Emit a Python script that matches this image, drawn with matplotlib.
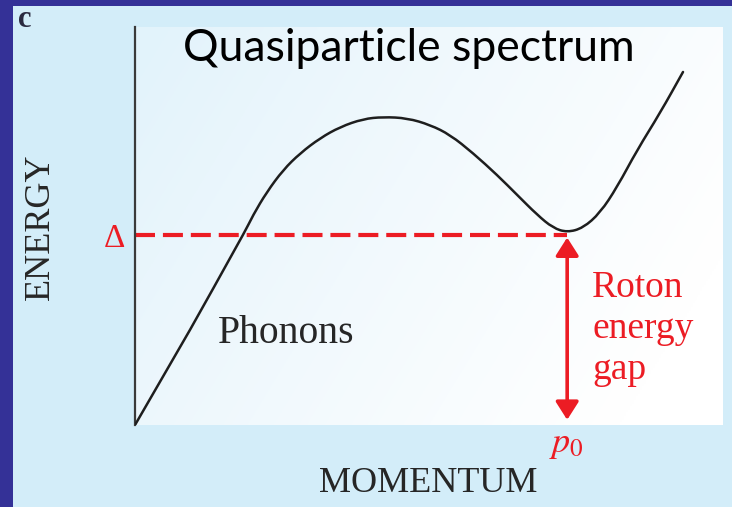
import numpy as np
import matplotlib
matplotlib.use("Agg")
import matplotlib.pyplot as plt
from matplotlib.patches import Rectangle, FancyArrowPatch, PathPatch
from matplotlib.path import Path

plt.rcParams["mathtext.fontset"] = "stix"

# Dispersion curve of superfluid helium (arbitrary units)
momentum = [0.000, 0.0935, 0.184, 0.201, 0.224, 0.252, 0.281, 0.315, 0.349,
            0.388, 0.422, 0.463, 0.502, 0.536, 0.575, 0.616, 0.650, 0.684,
            0.711, 0.735, 0.762, 0.791, 0.820, 0.854, 0.893, 0.932]
energy = [0.000, 0.239, 0.477, 0.528, 0.585, 0.641, 0.683, 0.721, 0.749,
          0.769, 0.774, 0.771, 0.754, 0.729, 0.683, 0.628, 0.578, 0.528,
          0.495, 0.484, 0.495, 0.533, 0.598, 0.691, 0.784, 0.887]

roton_gap = 0.477      # energy Delta
roton_momentum = 0.735  # p0
gap_bottom = 0.013

W, H = 732, 507
fig = plt.figure(figsize=(W / 100, H / 100), dpi=100)
fig.patch.set_facecolor("#d3edf9")

def fpos(x, y):
    return x / W, 1 - y / H

# dark frame on the left and top
navy = "#343197"
fig.patches.append(Rectangle((0, 0), 13 / W, 1, transform=fig.transFigure,
                             facecolor=navy, edgecolor="none", zorder=0))
fig.patches.append(Rectangle((0, 1 - 6 / H), 1, 6 / H, transform=fig.transFigure,
                             facecolor=navy, edgecolor="none", zorder=0))

ax_l, ax_r, ax_t, ax_b = 135, 723, 27, 425
ax = fig.add_axes([ax_l / W, 1 - ax_b / H, (ax_r - ax_l) / W, (ax_b - ax_t) / H])

# soft light-blue to white background inside the plotting region
gx, gy = np.meshgrid(np.linspace(0, 1, 300), np.linspace(0, 1, 200))
t = np.clip(0.85 * gx + 0.35 * (1 - gy) - 0.05, 0, 1) ** 0.9
c0 = np.array([0.89, 0.953, 0.985])
c1 = np.array([1.0, 1.0, 1.0])
img = c0[None, None, :] * (1 - t[..., None]) + c1[None, None, :] * t[..., None]
ax.imshow(img, extent=(0, 1, 1, 0), aspect="auto", zorder=0)
ax.set_xlim(0, 1)
ax.set_ylim(0, 1)

for s in ["top", "right", "bottom"]:
    ax.spines[s].set_visible(False)
ax.spines["left"].set_color("#3a3a3a")
ax.spines["left"].set_linewidth(1.6)
ax.set_xticks([])
ax.set_yticks([])

red = "#ec1c24"

# Delta level
ax.plot([0, roton_momentum], [roton_gap, roton_gap], color=red, lw=3.0,
        dashes=(4.8, 1.9), solid_capstyle="butt", dash_capstyle="butt", zorder=2)

# dispersion curve as a smooth quadratic Bezier path through the samples
pts = np.column_stack([momentum, energy])
verts = [pts[0], pts[1]]
codes = [Path.MOVETO, Path.LINETO]
for i in range(2, len(pts) - 1):
    mid = (pts[i] + pts[i + 1]) / 2
    verts += [pts[i], mid]
    codes += [Path.CURVE3, Path.CURVE3]
verts.append(pts[-1])
codes.append(Path.LINETO)
curve = PathPatch(Path(verts, codes), facecolor="none", edgecolor="#1e1e1e",
                  lw=1.8, capstyle="round", joinstyle="round", zorder=3)
ax.add_patch(curve)

# roton gap arrow
arr = FancyArrowPatch((roton_momentum, gap_bottom), (roton_momentum, roton_gap - 0.006),
                      arrowstyle="<|-|>,head_length=11,head_width=7",
                      mutation_scale=1, color=red, lw=2.6, shrinkA=0, shrinkB=0,
                      zorder=4)
ax.add_patch(arr)

serif = "Liberation Serif"

fig.text(*fpos(18, 27), "c", fontsize=22, fontweight="bold", family=serif,
         color="#2a2a40", ha="left", va="baseline")

fig.text(*fpos(409, 61), "Quasiparticle spectrum", fontsize=32, family="Lato",
         color="black", ha="center", va="baseline")

fig.text(*fpos(114, 247), "Δ", fontsize=24, family=serif, color=red,
         ha="center", va="baseline")

fig.text(*fpos(40, 227), "ENERGY", fontsize=26, family=serif, color="#262626",
         rotation=90, ha="center", va="center")

fig.text(*fpos(428, 492), "MOMENTUM", fontsize=26, family=serif, color="#262626",
         ha="center", va="baseline")

fig.text(*fpos(218, 343), "Phonons", fontsize=28.5, family=serif, color="#262626",
         ha="left", va="baseline")

for i, word in enumerate(["Roton", "energy", "gap"]):
    fig.text(*fpos(592, 297 + 41 * i), word, fontsize=27, family=serif,
             color=red, ha="left", va="baseline")

fig.text(*fpos(566, 452), r"$p_0$", fontsize=26, color=red,
         ha="center", va="baseline")

fig.savefig("out.png", dpi=100, facecolor=fig.get_facecolor())
